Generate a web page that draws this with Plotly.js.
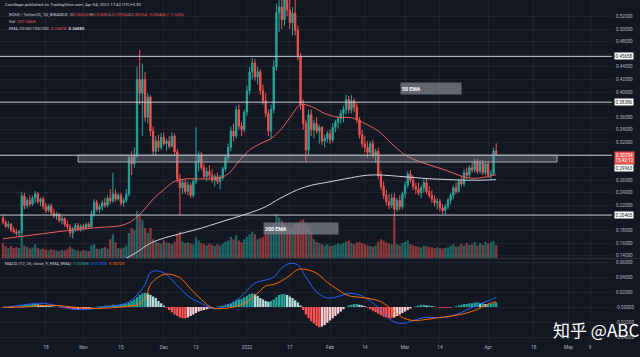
<!DOCTYPE html>
<html><head><meta charset="utf-8">
<script src="https://cdn.plot.ly/plotly-3.0.1.min.js"></script>
<style>html,body{margin:0;padding:0;background:#131722;}#c{width:640px;height:357px;}</style>
</head><body><div id="c"></div>
<script>
// ---- DATA (daily candles ROSE/USDT, 2021-10-02 .. 2022-04-04) ----
const startDay = [2021, 9, 2];
const open = [
.200,.193,.187,.190,.181,.178,.176,.179,.235,.220,
.228,.222,.232,.238,.226,.230,.218,.212,.219,.208,
.203,.206,.196,.199,.190,.186,.176,.183,.188,.182,
.187,.184,.190,.186,.206,.225,.214,.218,.224,.220,
.231,.227,.238,.230,.236,.224,.228,.238,.296,.286,
.300,.420,.398,.420,.360,.392,.338,.306,.322,.312,
.328,.318,.322,.314,.330,.305,.262,.248,.256,.242,
.252,.236,.258,.290,.300,.280,.266,.274,.268,.260,
.266,.258,.264,.278,.296,.312,.338,.330,.372,.346,
.340,.368,.402,.432,.446,.424,.432,.402,.386,.366,
.338,.372,.440,.526,.535,.515,.548,.530,.510,.525,
.498,.456,.380,.350,.308,.364,.340,.350,.338,.344,
.322,.326,.334,.324,.344,.352,.358,.366,.372,.388,
.372,.386,.376,.356,.332,.318,.312,.304,.318,.300,
.306,.268,.250,.236,.226,.220,.232,.214,.228,.218,
.238,.252,.270,.260,.250,.246,.240,.248,.256,.242,
.236,.230,.224,.226,.216,.212,.218,.228,.236,.248,
.242,.258,.254,.272,.268,.280,.276,.290,.274,.288,
.272,.286,.268,.270,.3062];
const high = [
.205,.197,.195,.192,.186,.183,.181,.242,.240,.232,
.236,.235,.243,.241,.233,.234,.224,.222,.223,.214,
.210,.208,.203,.201,.196,.190,.186,.192,.192,.190,
.191,.193,.194,.212,.230,.229,.222,.228,.232,.236,
.246,.272,.245,.240,.240,.232,.246,.300,.306,.312,
.440,.467,.445,.432,.398,.395,.345,.330,.332,.335,
.336,.326,.330,.336,.334,.310,.270,.262,.262,.258,
.256,.262,.344,.306,.305,.286,.280,.284,.278,.270,
.272,.268,.282,.300,.318,.345,.350,.378,.380,.352,
.372,.410,.440,.454,.452,.440,.436,.412,.398,.372,
.380,.450,.540,.560,.570,.560,.575,.560,.535,.560,
.505,.462,.388,.356,.372,.372,.356,.360,.348,.346,
.332,.338,.340,.350,.356,.362,.372,.378,.396,.394,
.395,.390,.382,.360,.340,.330,.322,.322,.324,.310,
.312,.275,.258,.245,.238,.238,.240,.232,.236,.242,
.258,.274,.276,.268,.256,.256,.252,.262,.262,.250,
.244,.236,.232,.230,.222,.222,.232,.240,.252,.256,
.262,.266,.278,.280,.284,.290,.294,.294,.292,.292,
.290,.290,.276,.312,.3185];
const low = [
.190,.184,.183,.178,.175,.172,.170,.176,.214,.215,
.218,.219,.224,.222,.219,.214,.208,.209,.205,.200,
.197,.193,.190,.186,.182,.170,.168,.178,.179,.178,
.180,.182,.183,.184,.202,.210,.208,.212,.216,.217,
.222,.224,.226,.228,.220,.218,.224,.234,.268,.280,
.296,.380,.330,.352,.350,.330,.300,.300,.305,.308,
.315,.306,.310,.312,.300,.256,.205,.238,.238,.236,
.232,.232,.254,.274,.276,.262,.258,.262,.256,.250,
.254,.246,.260,.274,.290,.306,.322,.326,.340,.330,
.336,.362,.396,.420,.418,.412,.396,.380,.360,.330,
.326,.366,.434,.495,.500,.505,.520,.500,.490,.490,
.450,.372,.340,.288,.300,.330,.326,.334,.318,.316,
.312,.320,.318,.320,.336,.342,.350,.352,.364,.366,
.366,.368,.350,.326,.312,.304,.296,.300,.296,.288,
.262,.244,.230,.220,.214,.216,.200,.210,.212,.214,
.232,.248,.256,.244,.238,.236,.232,.240,.238,.232,
.224,.218,.214,.210,.206,.206,.214,.222,.230,.238,
.240,.250,.250,.262,.264,.272,.272,.270,.270,.268,
.268,.264,.262,.268,.2993];
const close = [
.193,.187,.190,.181,.178,.176,.179,.235,.220,.228,
.222,.232,.238,.226,.230,.218,.212,.219,.208,.203,
.206,.196,.199,.190,.186,.176,.183,.188,.182,.187,
.184,.190,.186,.206,.225,.214,.218,.224,.220,.231,
.227,.238,.230,.236,.224,.228,.238,.296,.286,.300,
.420,.398,.420,.360,.392,.338,.306,.322,.312,.328,
.318,.322,.314,.330,.305,.262,.248,.256,.242,.252,
.236,.258,.290,.300,.280,.266,.274,.268,.260,.266,
.258,.264,.278,.296,.312,.338,.330,.372,.346,.340,
.368,.402,.432,.446,.424,.432,.402,.386,.366,.338,
.372,.440,.526,.535,.515,.548,.530,.510,.525,.498,
.456,.380,.350,.308,.364,.340,.350,.338,.344,.322,
.326,.334,.324,.344,.352,.358,.366,.372,.388,.372,
.386,.376,.356,.332,.318,.312,.304,.318,.300,.306,
.268,.250,.236,.226,.220,.232,.214,.228,.218,.238,
.252,.270,.260,.250,.246,.240,.248,.256,.242,.236,
.230,.224,.226,.216,.212,.218,.228,.236,.248,.242,
.258,.254,.272,.268,.280,.276,.290,.274,.288,.272,
.286,.268,.270,.3062,.30154];
const volumeK = [
240,190,160,190,160,175,160,420,200,180,
150,170,220,160,140,150,130,120,140,130,
120,110,130,120,140,180,150,130,120,110,
130,120,110,200,220,150,140,160,180,150,
300,380,250,160,150,170,200,400,480,450,
750,670,610,480,400,480,300,260,240,230,
280,250,240,220,260,380,420,260,240,250,
230,220,330,280,240,220,200,230,210,190,
220,200,230,260,280,340,300,360,280,250,
300,340,380,420,380,300,320,340,380,420,
450,560,700,650,600,560,520,480,500,560,
560,600,620,560,500,420,300,260,240,220,
200,220,190,200,210,230,220,240,260,280,
240,220,250,260,240,220,200,190,180,200,
260,300,280,250,230,220,640,220,200,240,
260,280,220,200,190,180,170,200,190,180,
170,160,170,160,150,160,170,200,220,180,
190,230,200,240,210,220,260,200,240,210,
260,230,250,270,207];
// EMA lines (candle index -> value)
const ema50Idx = [0,11,24,36,44,48,52,56,60,64,68,74,80,84,88,92,96,100,104,108,111,115,120,125,130,134,140,145,150,155,160,165,170,175,180,184];
const ema50Val = [.167,.173,.180,.185,.188,.195,.210,.230,.245,.258,.262,.262,.263,.270,.290,.308,.318,.326,.342,.365,.380,.377,.366,.360,.359,.352,.338,.318,.300,.290,.283,.276,.268,.263,.265,.2688];
const ema200Idx = [36,44,50,55,60,67,74,80,86,92,98,102,106,110,115,120,125,130,136,142,148,154,160,166,172,178,184];
const ema200Val = [.120,.132,.146,.160,.168,.176,.184,.192,.200,.208,.218,.228,.237,.245,.252,.256,.260,.264,.268,.268,.266,.264,.262,.261,.260,.260,.2609];
// MACD (12,26,9)
const macdIdx = [0,8,14,20,26,32,38,44,47,50,53,55,58,61,66,70,74,78,82,86,90,94,98,101,104,107,110,113,117,121,125,129,133,137,141,145,149,153,157,161,165,169,173,177,181,184];
const macdLine = [-0.001,0.003,0.005,0.002,-0.003,-0.003,0.000,0.003,0.007,0.016,0.030,0.046,0.048,0.043,0.025,0.012,0.005,-0.002,0.000,0.006,0.018,0.032,0.036,0.040,0.052,0.058,0.056,0.040,0.020,0.012,0.014,0.018,0.016,0.008,-0.004,-0.018,-0.022,-0.018,-0.014,-0.014,-0.014,-0.010,-0.004,0.003,0.008,0.0131];
const signalLine = [0.000,0.000,0.002,0.002,0.000,-0.002,-0.0015,0.000,0.001,0.003,0.011,0.030,0.040,0.044,0.039,0.024,0.010,-0.001,-0.002,0.000,0.005,0.015,0.028,0.030,0.035,0.042,0.050,0.050,0.045,0.033,0.023,0.015,0.013,0.011,0.007,-0.003,-0.014,-0.018,-0.017,-0.015,-0.013,-0.011,-0.008,-0.003,0.004,0.0072];
const histMilli = [
-0.5,-1,-1,-0.8,-0.5, 0,1,2,3, 3,3.5,4,4,3.5,3,2.5,2, 1.5,1,0.5,0,
-0.5,-1,-1.5,-2,-2.5,-3,-3,-2.5,-2.5,-2,-1.5,-1, -0.5,0,0.5,1,1,1.5,2,2,
3,3,3,3.5,4,4.5, 6,8,10,13,16,18,19,18,16, 14,12,8,5,2,
-1,-4,-7,-10,-12,-14,-15,-15,-14,-12,-10,-8, -6,-5,-4,-3,-2,-1,0,0.5,
1,2,3,4,5,7,9,10,11,13, 15,17,18,17,15,12,10,8,7, 8,10,13,16,17,17,16,14,12,9,
6,2,-4,-10,-15,-19, -22,-25,-27,-26,-24,-21,-18,-15,-12,-9,-6, -3,0,2,3,4,4,3,2,1,
-1,-3,-5,-7,-9, -11,-13,-14,-15,-15,-14,-12,-10,-8,-6, -4,-2,0,1,2,3,3,2,
2,1,1,0,-1,-1,-1, -1,-0.5,0,1,2,3,4,4, 5,5,6,6,5,5,4,4,4,5,6];
// horizontal levels
const levels = [0.45658, 0.38386, 0.29963, 0.20465];
const zone = {top: 0.29963, bottom: 0.2888, fromIdx: 28, toIdx: 206.7};
const priceTicks = [0.14,0.16,0.18,0.20,0.22,0.24,0.26,0.28,0.30,0.32,0.34,0.36,0.38,0.40,0.42,0.44,0.46,0.48,0.50,0.52];
const hiddenTicks = [0.20,0.28,0.30,0.38,0.46];
const macdTicks = [-0.04,-0.02,0,0.02,0.04,0.06];
const macdTickText = ['-0.04000','-0.02000','-0.00000','0.02000','0.04000','0.06000'];
const timeTicks = ['2021-10-01','2021-10-18','2021-11-01','2021-11-15','2021-12-01','2021-12-13','2022-01-01','2022-01-17','2022-02-01','2022-02-14','2022-03-01','2022-03-14','2022-04-01','2022-04-18','2022-05-01','2022-05-09'];
const timeTickText = ['Oct','18','Nov','15','Dec','13','2022','17','Feb','14','Mar','14','Apr','18','May','9'];

// ---- helpers ----
const T0 = Date.UTC(startDay[0], startDay[1], startDay[2]);
const d = f => new Date(T0 + f*86400000).toISOString().slice(0,19).replace('T',' ');
const dates = close.map((_, i) => d(i).slice(0,10));
const PW = 612, PH = 340;
const px = x => x/PW, py = y => (PH - y)/PH;

const UP = '#26a69a', DN = '#ef5350';
const volColors = close.map((c,i) => c >= open[i] ? 'rgba(38,166,154,0.55)' : 'rgba(239,83,80,0.55)');
const hist = histMilli.map(v => v/1000);
const histColors = hist.map((v,i) => {
  const prev = i ? hist[i-1] : 0;
  if (v >= 0) return v >= prev ? '#26a69a' : '#b2dfdb';
  return v <= prev ? '#ff5252' : '#ffcdd2';
});

const traces = [
  {type:'bar', x:dates, y:volumeK, xaxis:'x', yaxis:'y', marker:{color:volColors, line:{width:0}}, hoverinfo:'skip'},
  {type:'candlestick', x:dates, open, high, low, close, xaxis:'x', yaxis:'y3',
   increasing:{line:{color:UP, width:1}, fillcolor:UP},
   decreasing:{line:{color:DN, width:1}, fillcolor:DN}, whiskerwidth:0, hoverinfo:'skip'},
  {type:'scatter', mode:'lines', x:ema50Idx.map(i=>dates[i]), y:ema50Val, xaxis:'x', yaxis:'y3', line:{color:'#f0605c', width:1, shape:'spline', smoothing:1}, hoverinfo:'skip'},
  {type:'scatter', mode:'lines', x:ema200Idx.map(i=>dates[i]), y:ema200Val, xaxis:'x', yaxis:'y3', line:{color:'#d1d4dc', width:1, shape:'spline', smoothing:1}, hoverinfo:'skip'},
  {type:'bar', x:dates, y:hist, xaxis:'x', yaxis:'y2', marker:{color:histColors, line:{width:0}}, hoverinfo:'skip'},
  {type:'scatter', mode:'lines', x:macdIdx.map(i=>dates[i]), y:macdLine, xaxis:'x', yaxis:'y2', line:{color:'#2962ff', width:1, shape:'spline', smoothing:1}, hoverinfo:'skip'},
  {type:'scatter', mode:'lines', x:macdIdx.map(i=>dates[i]), y:signalLine, xaxis:'x', yaxis:'y2', line:{color:'#ff6d00', width:1, shape:'spline', smoothing:1}, hoverinfo:'skip'}
];

const GRID = 'rgba(42,46,57,0.55)';
const TICKC = '#b2b5be';
const FONT = 'Roboto, "Open Sans", sans-serif';

const shapes = [];
levels.forEach(v => shapes.push({type:'line', xref:'paper', x0:0, x1:1, yref:'y3', y0:v, y1:v, line:{color:'#c8cbd3', width:1}, layer:'above'}));
shapes.push({type:'rect', xref:'x', x0:d(zone.fromIdx), x1:d(zone.toIdx), yref:'y3', y0:zone.bottom, y1:zone.top,
  fillcolor:'rgba(150,153,163,0.35)', line:{color:'#a3a6af', width:1}, layer:'above'});
// pane separator
shapes.push({type:'line', xref:'paper', x0:0, x1:640/PW, yref:'paper', y0:py(258.5), y1:py(258.5), line:{color:'#2a2e39', width:1}});
// callout pointers
shapes.push({type:'path', xref:'x', yref:'y3', path:`M ${d(148.1)},0.3968 L ${d(152.4)},0.3968 L ${d(138.1)},0.3556 Z`, fillcolor:'rgba(120,123,134,0.8)', line:{width:0}, layer:'above'});
shapes.push({type:'path', xref:'x', yref:'y3', path:`M ${d(110.1)},0.1921 L ${d(114.6)},0.1921 L ${d(114.6)},0.2492 Z`, fillcolor:'rgba(120,123,134,0.8)', line:{width:0}, layer:'above'});

const red = s => `<span style="color:#ef5350">${s}</span>`;
const HF = {family:FONT, size:4.3, color:'#d1d4dc'};
const annotations = [
  {xref:'paper', yref:'paper', x:px(3), y:py(5), xanchor:'left', yanchor:'middle', showarrow:false, font:HF,
   text:'CoinGape published on TradingView.com, Apr 04, 2022 17:42 UTC+5:30'},
  {xref:'paper', yref:'paper', x:px(7), y:py(15), xanchor:'left', yanchor:'middle', showarrow:false, font:HF,
   text:`ROSE / TetherUS, 1D, BINANCE  O${red('0.30620')} H${red('0.31850')} L${red('0.29934')} C${red('0.30154')} ${red('−0.00466 (−1.52%)')}`},
  {xref:'paper', yref:'paper', x:px(7), y:py(21.5), xanchor:'left', yanchor:'middle', showarrow:false, font:HF,
   text:`Vol  ${red('207.046K')}`},
  {xref:'paper', yref:'paper', x:px(7), y:py(28), xanchor:'left', yanchor:'middle', showarrow:false, font:HF,
   text:`EMA 20/50/100/200  ${red('0.26878')}  <b>0.26085</b>`},
  {xref:'paper', yref:'paper', x:px(3), y:py(263.5), xanchor:'left', yanchor:'middle', showarrow:false, font:HF,
   text:`MACD (12, 26, close, 9, EMA, EMA)  <span style="color:#26a69a">0.00588</span>  <span style="color:#2962ff">0.01308</span>  <span style="color:#ff6d00">0.00720</span>`},
  // callout boxes
  {xref:'x', yref:'y3', x:d(148.1), y:0.4056, xanchor:'left', yanchor:'middle', showarrow:false, width:58, height:9, align:'left',
   bgcolor:'rgba(120,123,134,0.8)', borderpad:1, font:{family:FONT, size:5.2, color:'#ffffff'}, text:'<b>50 EMA</b>'},
  {xref:'x', yref:'y3', x:d(97), y:0.1833, xanchor:'left', yanchor:'middle', showarrow:false, width:72, height:9, align:'left',
   bgcolor:'rgba(120,123,134,0.8)', borderpad:1, font:{family:FONT, size:5.2, color:'#ffffff'}, text:'<b>200 EMA</b>'},
  // price labels
  {xref:'paper', yref:'y3', x:1.003, y:0.45658, xanchor:'left', yanchor:'middle', showarrow:false, bgcolor:'#ffffff', borderpad:0.5, font:{family:FONT, size:4.6, color:'#131722'}, text:'0.45658'},
  {xref:'paper', yref:'y3', x:1.003, y:0.38386, xanchor:'left', yanchor:'middle', showarrow:false, bgcolor:'#ffffff', borderpad:0.5, font:{family:FONT, size:4.6, color:'#131722'}, text:'0.38386'},
  {xref:'paper', yref:'y3', x:1.003, y:0.20465, xanchor:'left', yanchor:'middle', showarrow:false, bgcolor:'#ffffff', borderpad:0.5, font:{family:FONT, size:4.6, color:'#131722'}, text:'0.20465'},
  {xref:'paper', yref:'y3', x:1.003, y:0.30154, xanchor:'left', yanchor:'top', yshift:3, showarrow:false, bgcolor:'#ef5350', borderpad:0.5, font:{family:FONT, size:4.6, color:'#ffffff'}, text:'0.30154<br>15:42:12'},
  {xref:'paper', yref:'y3', x:1.003, y:0.29963, xanchor:'left', yanchor:'top', yshift:-8.5, showarrow:false, bgcolor:'#ffffff', borderpad:0.5, font:{family:FONT, size:4.6, color:'#131722'}, text:'0.29963'},
  // watermark
  {xref:'paper', yref:'paper', x:px(596), y:py(329), xanchor:'center', yanchor:'middle', showarrow:false,
   font:{family:'"Noto Sans CJK SC", "Noto Sans", sans-serif', size:17, color:'#ffffff'}, text:'知乎 @ABC'}
];

const layout = {
  width:640, height:357, paper_bgcolor:'#131722', plot_bgcolor:'#131722',
  margin:{l:0, r:28, t:0, b:17}, showlegend:false, bargap:0.15, font:{family:FONT, color:TICKC},
  xaxis:{type:'date', domain:[0,1], anchor:'y2', range:[d(-1.12), d(227.2)], rangeslider:{visible:false},
    tickvals:timeTicks, ticktext:timeTickText, tickfont:{size:4.8, color:TICKC}, ticks:'', ticklabelstandoff:3,
    showgrid:true, gridcolor:GRID, gridwidth:1, zeroline:false, showline:false, fixedrange:true},
  yaxis:{domain:[py(258), 1], range:[0, 4128], visible:false, fixedrange:true},
  yaxis3:{overlaying:'y', side:'right', range:[(344-258)/630, 344/630], tickvals:priceTicks,
    ticktext:priceTicks.map(v => hiddenTicks.some(h=>Math.abs(h-v)<1e-9) ? '' : v.toFixed(5)),
    tickfont:{size:4.6, color:TICKC}, ticks:'', ticklabelstandoff:3, showgrid:true, gridcolor:GRID, zeroline:false, showline:false, fixedrange:true},
  yaxis2:{domain:[0, py(259)], anchor:'x', side:'right', range:[-0.044, 0.064], tickvals:macdTicks, ticktext:macdTickText,
    tickfont:{size:4.6, color:TICKC}, ticks:'', ticklabelstandoff:3, showgrid:true, gridcolor:GRID, zeroline:false, showline:false, fixedrange:true},
  shapes, annotations
};
Plotly.newPlot('c', traces, layout, {staticPlot:true, displayModeBar:false});
</script>
</body></html>
